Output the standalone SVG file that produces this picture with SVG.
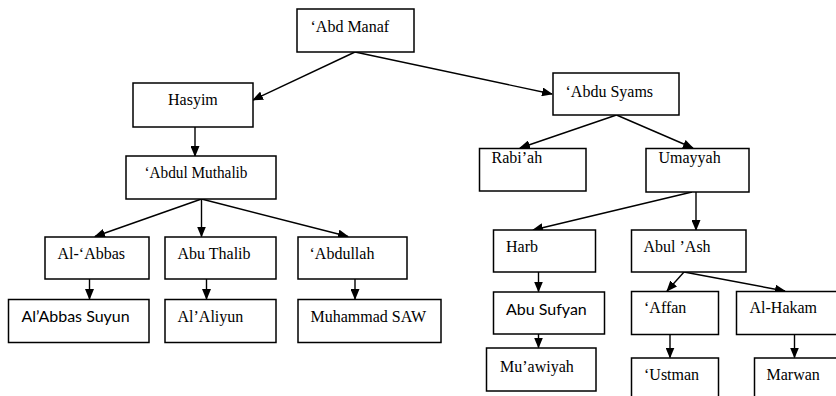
<svg xmlns="http://www.w3.org/2000/svg" width="836" height="396" viewBox="0 0 836 396">
<style>
.box{fill:#fff;stroke:#000;stroke-width:1.5}
.c{stroke:#000;stroke-width:1.4;fill:none;marker-end:url(#ah)}
</style>
<defs>
<marker id="ah" markerUnits="userSpaceOnUse" markerWidth="11" markerHeight="9" refX="10" refY="4.5" orient="auto">
<path d="M0,0 L11,4.5 L0,9 z" fill="#000"/>
</marker>
</defs>
<rect width="836" height="396" fill="#fff"/>
<g id="connectors">
<line class="c" x1="355" y1="52" x2="253" y2="100"/>
<line class="c" x1="355" y1="52" x2="552" y2="94"/>
<line class="c" x1="195" y1="127" x2="195" y2="156"/>
<line class="c" x1="201.5" y1="199" x2="95" y2="236.5"/>
<line class="c" x1="201.5" y1="199" x2="201.5" y2="236.5"/>
<line class="c" x1="201.5" y1="199" x2="348" y2="236.5"/>
<line class="c" x1="89.5" y1="279" x2="89.5" y2="299"/>
<line class="c" x1="206.5" y1="279" x2="206.5" y2="299"/>
<line class="c" x1="355" y1="279" x2="355" y2="299"/>
<line class="c" x1="616.5" y1="115" x2="520" y2="148"/>
<line class="c" x1="616.5" y1="115" x2="693" y2="148"/>
<line class="c" x1="692" y1="192" x2="533" y2="230"/>
<line class="c" x1="696" y1="192" x2="696" y2="230"/>
<line class="c" x1="538.5" y1="272" x2="538.5" y2="291.5"/>
<line class="c" x1="538.5" y1="334" x2="538.5" y2="347.5"/>
<line class="c" x1="684" y1="272" x2="667" y2="291"/>
<line class="c" x1="684" y1="272" x2="785" y2="291"/>
<line class="c" x1="670" y1="334" x2="670" y2="357.5"/>
<line class="c" x1="794.5" y1="334" x2="794.5" y2="357.5"/>
</g>
<g id="abd-manaf"><rect class="box" x="297" y="9" width="117" height="43"/><text x="310.5" y="32" font-family="'Liberation Serif', serif" font-size="16">‘Abd Manaf</text></g>
<g id="hasyim"><rect class="box" x="133" y="83" width="120" height="44"/><text x="168" y="105" font-family="'Liberation Serif', serif" font-size="16">Hasyim</text></g>
<g id="abdul-muthalib"><rect class="box" x="126" y="156" width="150" height="43"/><text x="144.5" y="177.5" font-family="'Liberation Serif', serif" font-size="16" textLength="103" lengthAdjust="spacingAndGlyphs">‘Abdul Muthalib</text></g>
<g id="al-abbas"><rect class="box" x="45" y="237" width="104" height="42"/><text x="57.5" y="259" font-family="'Liberation Serif', serif" font-size="16">Al-‘Abbas</text></g>
<g id="abu-thalib"><rect class="box" x="165" y="237" width="111" height="42"/><text x="177.5" y="259" font-family="'Liberation Serif', serif" font-size="16">Abu Thalib</text></g>
<g id="abdullah"><rect class="box" x="298" y="237" width="109" height="42"/><text x="309.5" y="259" font-family="'Liberation Serif', serif" font-size="16">‘Abdullah</text></g>
<g id="al-abbas-suyun"><rect class="box" x="8.5" y="299.5" width="140.5" height="43"/><text x="21.5" y="322" font-family="Lato, sans-serif" font-size="16">Al’Abbas Suyun</text></g>
<g id="al-aliyun"><rect class="box" x="165" y="299.5" width="111" height="43"/><text x="177.5" y="321.5" font-family="'Liberation Serif', serif" font-size="16">Al’Aliyun</text></g>
<g id="muhammad-saw"><rect class="box" x="298" y="299.5" width="143" height="43"/><text x="310.5" y="321.5" font-family="'Liberation Serif', serif" font-size="16">Muhammad SAW</text></g>
<g id="abdu-syams"><rect class="box" x="553" y="73" width="126" height="42"/><text x="565.5" y="97" font-family="'Liberation Serif', serif" font-size="16">‘Abdu Syams</text></g>
<g id="rabiah"><rect class="box" x="479.5" y="148.5" width="106.5" height="42.5"/><text x="491.5" y="163" font-family="'Liberation Serif', serif" font-size="16">Rabi’ah</text></g>
<g id="umayyah"><rect class="box" x="646" y="148.5" width="103" height="43.5"/><text x="658.5" y="163" font-family="'Liberation Serif', serif" font-size="16">Umayyah</text></g>
<g id="harb"><rect class="box" x="493.5" y="230" width="102" height="42"/><text x="506" y="252" font-family="'Liberation Serif', serif" font-size="16">Harb</text></g>
<g id="abul-ash"><rect class="box" x="631.5" y="230" width="114.5" height="42"/><text x="643.5" y="252" font-family="'Liberation Serif', serif" font-size="16">Abul ’Ash</text></g>
<g id="abu-sufyan"><rect class="box" x="493.5" y="292" width="111" height="42"/><text x="506" y="315" font-family="Lato, sans-serif" font-size="16">Abu Sufyan</text></g>
<g id="muawiyah"><rect class="box" x="486.5" y="348" width="109.5" height="43"/><text x="500" y="372" font-family="'Liberation Serif', serif" font-size="16">Mu’awiyah</text></g>
<g id="affan"><rect class="box" x="631.5" y="291.5" width="87" height="43"/><text x="644" y="313" font-family="'Liberation Serif', serif" font-size="16">‘Affan</text></g>
<g id="al-hakam"><rect class="box" x="736.5" y="291.5" width="101" height="43"/><text x="749.5" y="313" font-family="'Liberation Serif', serif" font-size="16">Al-Hakam</text></g>
<g id="ustman"><rect class="box" x="631.5" y="358" width="87" height="50"/><text x="644" y="379.5" font-family="'Liberation Serif', serif" font-size="16">‘Ustman</text></g>
<g id="marwan"><rect class="box" x="754.5" y="358" width="83" height="50"/><text x="766.5" y="379.5" font-family="'Liberation Serif', serif" font-size="16">Marwan</text></g>
</svg>
